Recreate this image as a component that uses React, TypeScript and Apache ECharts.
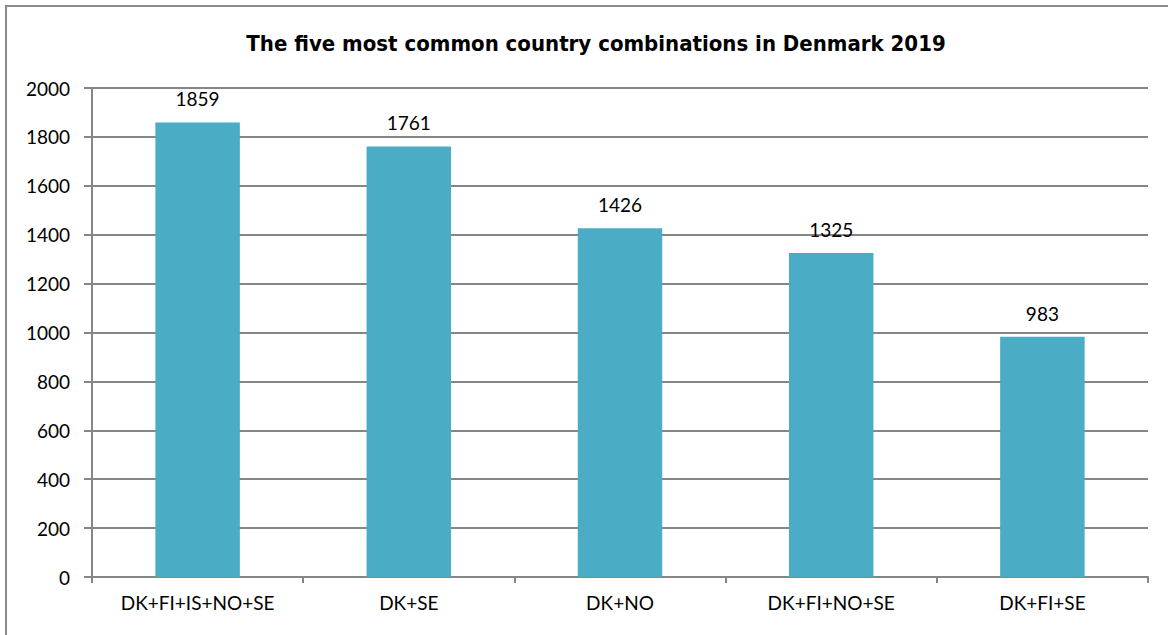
import React, { useEffect, useRef } from "react";
import * as echarts from "echarts";

const categories = ["DK+FI+IS+NO+SE", "DK+SE", "DK+NO", "DK+FI+NO+SE", "DK+FI+SE"];
const values = [1859, 1761, 1426, 1325, 983];
const titleText = "The five most common country combinations in Denmark 2019";

export default function App() {
  const ref = useRef<HTMLDivElement>(null);
  useEffect(() => {
    const chart = echarts.init(ref.current!, null, { renderer: "svg" });
    chart.setOption({
      animation: false,
      backgroundColor: "#ffffff",
      title: {
        text: titleText,
        left: 591,
        top: 27,
        textAlign: "center",
        textStyle: {
          fontFamily: "'DejaVu Sans Condensed', 'Liberation Sans Narrow', sans-serif",
          fontWeight: "bold",
          fontSize: 22,
          color: "#000000",
        },
      },
      graphic: [
        {
          type: "rect",
          shape: { x: 6, y: 6, width: 1200, height: 700 },
          style: { fill: "none", stroke: "#8a8a8a", lineWidth: 2 },
          silent: true,
          z: 100,
        },
      ],
      grid: { left: 92, right: 20, top: 88, bottom: 58, containLabel: false },
      xAxis: {
        type: "category",
        data: categories,
        axisLine: { show: true, lineStyle: { color: "#868686", width: 2 } },
        axisTick: { show: true, length: 6, lineStyle: { color: "#868686", width: 2 } },
        axisLabel: {
          fontFamily: "Lato, 'Open Sans', sans-serif",
          fontSize: 19,
          color: "#000000",
          margin: 16,
        },
      },
      yAxis: {
        type: "value",
        min: 0,
        max: 2000,
        interval: 200,
        axisLine: { show: true, lineStyle: { color: "#868686", width: 2 } },
        axisTick: { show: true, length: 8, lineStyle: { color: "#868686", width: 2 } },
        splitLine: { show: true, lineStyle: { color: "#868686", width: 2 } },
        axisLabel: {
          fontFamily: "Lato, 'Open Sans', sans-serif",
          fontSize: 19,
          color: "#000000",
          margin: 22,
          formatter: (v: number) => String(v),
        },
      },
      series: [
        {
          type: "bar",
          data: values,
          barWidth: "40%",
          itemStyle: { color: "#4bacc6" },
          label: {
            show: true,
            position: "top",
            distance: 14,
            fontFamily: "Lato, 'Open Sans', sans-serif",
            fontSize: 19,
            color: "#000000",
          },
        },
      ],
    });
    return () => chart.dispose();
  }, []);
  return (
    <div
      ref={ref}
      style={{ position: "fixed", left: 0, top: 0, width: 1168, height: 635 }}
    />
  );
}
